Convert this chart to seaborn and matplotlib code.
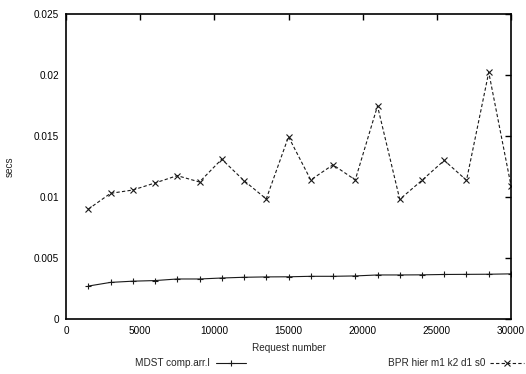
import matplotlib
matplotlib.use("Agg")
import matplotlib.pyplot as plt
import seaborn as sns
import pandas as pd

request_number = [1500, 3000, 4500, 6000, 7500, 9000, 10500, 12000, 13500, 15000,
                  16500, 18000, 19500, 21000, 22500, 24000, 25500, 27000, 28500, 30000]
mdst_secs = [0.0027, 0.0030, 0.0031, 0.00315, 0.00328, 0.00328, 0.00336, 0.00342, 0.00345, 0.00346,
             0.0035, 0.0035, 0.00353, 0.00361, 0.00361, 0.00362, 0.00365, 0.00366, 0.00367, 0.0037]
bpr_secs = [0.0090, 0.0103, 0.01057, 0.01115, 0.01175, 0.01123, 0.0131, 0.01134, 0.00984, 0.01494,
            0.0114, 0.01264, 0.0114, 0.01746, 0.00981, 0.01137, 0.0130, 0.01137, 0.02022, 0.01093]
mdst_label = "MDST comp.arr.l"
bpr_label = "BPR hier m1 k2 d1 s0"
x_ticks = [0, 5000, 10000, 15000, 20000, 25000, 30000]
y_ticks = [0, 0.005, 0.01, 0.015, 0.02, 0.025]

df = pd.DataFrame({"req": request_number, "mdst": mdst_secs, "bpr": bpr_secs})

sns.set_style("white")
plt.rcParams["font.family"] = ["Liberation Sans", "DejaVu Sans"]
plt.rcParams["font.size"] = 7.2

ink = "#1a1a1a"
fig = plt.figure(figsize=(5.26, 3.74), dpi=100)
ax = fig.add_axes([66 / 526, 55 / 374, 445 / 526, 305 / 374])

sns.lineplot(data=df, x="req", y="mdst", ax=ax, color=ink, linewidth=0.8,
             marker="+", markersize=5, markeredgewidth=0.8, markeredgecolor=ink,
             label=mdst_label, legend=False)
sns.lineplot(data=df, x="req", y="bpr", ax=ax, color=ink, linewidth=0.8,
             linestyle=(0, (3, 2)), marker="x", markersize=3.8, markeredgewidth=0.8,
             markeredgecolor=ink, label=bpr_label, legend=False)

ax.set_xlim(0, 30000)
ax.set_ylim(0, 0.025)
ax.set_xticks(x_ticks)
ax.set_xticklabels([str(t) for t in x_ticks])
ax.set_yticks(y_ticks)
ax.set_yticklabels(["0", "0.005", "0.01", "0.015", "0.02", "0.025"])
ax.tick_params(direction="in", length=4, width=1, top=True, right=True,
               labelsize=7.2, pad=5, colors="black")
for side in ax.spines.values():
    side.set_linewidth(1.2)
    side.set_color("black")

ax.set_xlabel("Request number", fontsize=7.2, labelpad=5)
ax.set_ylabel("secs", fontsize=7.2, labelpad=14)

h, l = ax.get_legend_handles_labels()
fig.legend([h[0]], [l[0]], loc="center right", bbox_to_anchor=(246 / 526, 11 / 374),
           frameon=False, markerfirst=False, handlelength=3.0, handletextpad=0.6,
           borderpad=0, borderaxespad=0, fontsize=7.2)
fig.legend([h[1]], [l[1]], loc="center right", bbox_to_anchor=(524 / 526, 11 / 374),
           frameon=False, markerfirst=False, handlelength=3.4, handletextpad=0.5,
           borderpad=0, borderaxespad=0, fontsize=7.2)

fig.savefig("out.png", dpi=100)
